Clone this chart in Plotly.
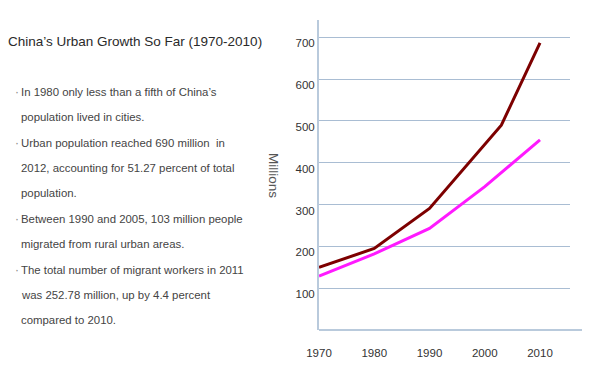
import plotly.graph_objects as go

# ---- data ----
years_total = [1970, 1980, 1990, 2003, 2010]
urban_total = [150, 195, 291, 490, 687]
years_second = [1970, 1980, 1990, 2000, 2010]
urban_second = [129, 182, 243, 343, 455]

x_ticks = [1970, 1980, 1990, 2000, 2010]
y_ticks = [100, 200, 300, 400, 500, 600, 700]

title_text = "China\u2019s Urban Growth So Far (1970-2010)"
body_lines = [
    (True, "In 1980 only less than a fifth of China\u2019s"),
    (False, "population lived in cities."),
    (True, "Urban population reached 690 million  in"),
    (False, "2012, accounting for 51.27 percent of total"),
    (False, "population."),
    (True, "Between 1990 and 2005, 103 million people"),
    (False, "migrated from rural urban areas."),
    (True, "The total number of migrant workers in 2011"),
    (False, "was 252.78 million, up by 4.4 percent"),
    (False, "compared to 2010."),
]

# ---- geometry (pixels) ----
W, H = 600, 365
L, R, T, B = 319, 30, 20, 35
PW = W - L - R
PH = H - T - B

def px(x):
    return (x - L) / PW

def py(y):
    return (H - B - y) / PH

FONT = "Arial, Liberation Sans, sans-serif"
GRID = "#a9bdd3"

fig = go.Figure()
fig.add_trace(go.Scatter(x=years_total, y=urban_total, mode="lines",
                         line=dict(color="#7d0000", width=3), hoverinfo="skip"))
fig.add_trace(go.Scatter(x=years_second, y=urban_second, mode="lines",
                         line=dict(color="#ff1aff", width=3), hoverinfo="skip"))

fig.update_layout(
    width=W, height=H,
    margin=dict(l=L, r=R, t=T, b=B),
    paper_bgcolor="white", plot_bgcolor="white",
    showlegend=False,
    font=dict(family=FONT, color="#333"),
    xaxis=dict(range=[1970, 1970 + PW / 5.525], tickvals=x_ticks,
               showgrid=False, zeroline=False, showline=False, ticks="",
               automargin=False,
               tickfont=dict(size=11.5, color="#333"), ticklabelstandoff=14),
    yaxis=dict(range=[0, 741.6], tickvals=y_ticks, showgrid=True,
               gridcolor=GRID, gridwidth=1, zeroline=False, showline=True,
               linecolor="#b9cadc", linewidth=2, ticks="", automargin=False,
               tickfont=dict(size=11.5, color="#333"), ticklabelshift=6,
               ticklabelstandoff=0),
)

# extended x-axis line
fig.add_shape(type="line", xref="paper", yref="paper",
              x0=0, x1=px(582), y0=0, y1=0,
              line=dict(color="#b9cadc", width=2))

# title
fig.add_annotation(text=title_text, xref="paper", yref="paper",
                   x=px(6), y=py(42), xanchor="left", yanchor="middle",
                   showarrow=False, font=dict(size=13.5, color="#2a2a2a", family=FONT))

# body
for i, (bullet, line) in enumerate(body_lines):
    yc = 91.7 + 25.4 * i
    fig.add_annotation(text=line, xref="paper", yref="paper",
                       x=px(18.5), y=py(yc), xanchor="left", yanchor="middle",
                       showarrow=False, font=dict(size=11.4, color="#444", family=FONT))
    if bullet:
        fig.add_annotation(text="\u00b7", xref="paper", yref="paper",
                           x=px(13), y=py(yc), xanchor="left", yanchor="middle",
                           showarrow=False, font=dict(size=12, color="#888", family=FONT))

# y axis title
fig.add_annotation(text="Millions", xref="paper", yref="paper",
                   x=px(274), y=py(175), xanchor="center", yanchor="middle",
                   textangle=90, showarrow=False,
                   font=dict(size=13.5, color="#555", family=FONT))

fig.write_html("out.html", config={"displayModeBar": False},
               post_script="document.body.style.margin='0';")
